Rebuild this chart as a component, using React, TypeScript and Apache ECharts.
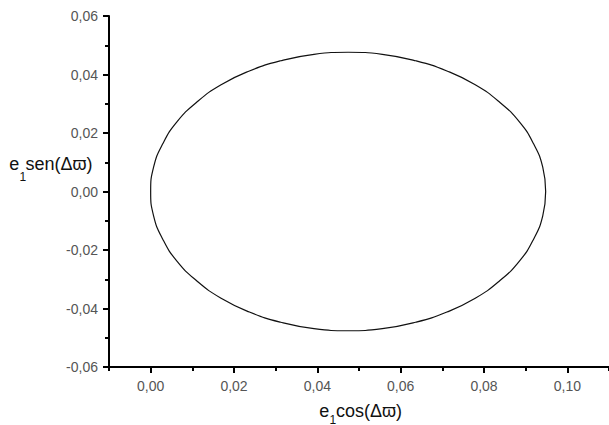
import React, { useEffect, useRef } from 'react';
import * as echarts from 'echarts';

const xMajorTicks = [0, 0.02, 0.04, 0.06, 0.08, 0.1];
const xMinorTicks = [-0.01, 0.01, 0.03, 0.05, 0.07, 0.09, 0.11];
const yMajorTicks = [-0.06, -0.04, -0.02, 0, 0.02, 0.04, 0.06];
const yMinorTicks = [-0.05, -0.03, -0.01, 0.01, 0.03, 0.05];

const curveX = [
  0.0948, 0.0941, 0.0919, 0.0885, 0.0837, 0.0779, 0.0711, 0.0636, 0.0556, 0.0474,
  0.0392, 0.0312, 0.0237, 0.0169, 0.0111, 0.0063, 0.0029, 0.0007, 0.0, 0.0007,
  0.0029, 0.0063, 0.0111, 0.0169, 0.0237, 0.0312, 0.0392, 0.0474, 0.0556, 0.0636,
  0.0711, 0.0779, 0.0837, 0.0885, 0.0919, 0.0941, 0.0948,
];
const curveY = [
  0, 0.0083, 0.0163, 0.0238, 0.0306, 0.0365, 0.0412, 0.0447, 0.0469, 0.0476,
  0.0469, 0.0447, 0.0412, 0.0365, 0.0306, 0.0238, 0.0163, 0.0083, 0, -0.0083,
  -0.0163, -0.0238, -0.0306, -0.0365, -0.0412, -0.0447, -0.0469, -0.0476, -0.0469, -0.0447,
  -0.0412, -0.0365, -0.0306, -0.0238, -0.0163, -0.0083, 0,
];

const FONT = '"Liberation Sans", Arial, "DejaVu Sans", sans-serif';
const fmt = (v: number) => (Math.abs(v) < 1e-9 ? 0 : v).toFixed(2).replace('.', ',');

function label(x: number, y: number, text: string, size: number) {
  return {
    type: 'text',
    x,
    y,
    silent: true,
    style: {
      text,
      fontSize: size,
      fontFamily: FONT,
      fill: '#111',
      align: 'left',
      verticalAlign: 'middle',
      textAlign: 'left',
      textVerticalAlign: 'middle',
    },
  };
}

export default function App() {
  const ref = useRef<HTMLDivElement>(null);
  useEffect(() => {
    document.body.style.margin = '0';
    const chart = echarts.init(ref.current!, null, { renderer: 'svg' });
    const axisCommon = {
      type: 'value' as const,
      splitLine: { show: false },
    };
    chart.setOption({
      animation: false,
      backgroundColor: '#fff',
      grid: { left: 109, right: 0, top: 16, bottom: 58 },
      xAxis: [
        {
          ...axisCommon,
          min: -0.01,
          max: 0.11,
          position: 'bottom',
          axisLine: { show: true, onZero: false, lineStyle: { color: '#000', width: 2 } },
          axisTick: { show: true, customValues: xMajorTicks, length: 6, lineStyle: { color: '#000', width: 2 } },
          axisLabel: {
            show: true,
            customValues: xMajorTicks,
            formatter: fmt,
            margin: 12,
            fontSize: 14,
            fontFamily: FONT,
            color: '#555',
          },
        },
        {
          ...axisCommon,
          min: -0.01,
          max: 0.11,
          position: 'bottom',
          axisLine: { show: false, onZero: false },
          axisTick: { show: true, customValues: xMinorTicks, length: 4, lineStyle: { color: '#000', width: 2 } },
          axisLabel: { show: false },
        },
      ],
      yAxis: [
        {
          ...axisCommon,
          min: -0.06,
          max: 0.06,
          position: 'left',
          axisLine: { show: true, onZero: false, lineStyle: { color: '#000', width: 2 } },
          axisTick: { show: true, customValues: yMajorTicks, length: 6, lineStyle: { color: '#000', width: 2 } },
          axisLabel: {
            show: true,
            customValues: yMajorTicks,
            formatter: fmt,
            margin: 11,
            fontSize: 14,
            fontFamily: FONT,
            color: '#555',
          },
        },
        {
          ...axisCommon,
          min: -0.06,
          max: 0.06,
          position: 'left',
          axisLine: { show: false, onZero: false },
          axisTick: { show: true, customValues: yMinorTicks, length: 4, lineStyle: { color: '#000', width: 2 } },
          axisLabel: { show: false },
        },
      ],
      graphic: [
        label(9.3, 163.8, 'e', 18),
        label(19.4, 176.5, '1', 12),
        label(25.5, 163.8, 'sen(Δϖ)', 18),
        label(319.3, 410.5, 'e', 18),
        label(329.4, 419.5, '1', 12),
        label(336, 410.5, 'cos(Δϖ)', 18),
      ],
      series: [
        {
          type: 'line',
          xAxisIndex: 0,
          yAxisIndex: 0,
          data: curveX.map((x, i) => [x, curveY[i]]),
          showSymbol: false,
          smooth: 0.5,
          lineStyle: { color: '#111', width: 1.2 },
        },
      ],
    });
    return () => chart.dispose();
  }, []);
  return <div ref={ref} style={{ width: 609, height: 425 }} />;
}
